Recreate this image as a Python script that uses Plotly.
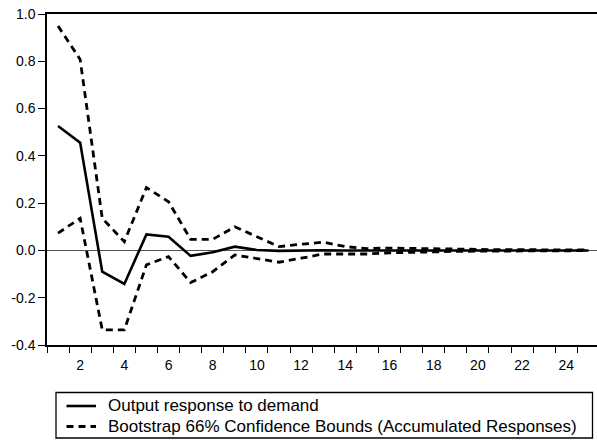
import plotly.graph_objects as go

# Impulse-response horizon (periods)
periods = list(range(1, 26))

# Point estimate of the output response to a demand shock
response = [0.526, 0.456, -0.090, -0.142, 0.068, 0.058, -0.023, -0.008, 0.016, 0.002,
            -0.002, 0.000, 0.001, 0.000, 0.000, 0.000, 0.000, 0.000, 0.000, 0.000,
            0.000, 0.000, 0.000, 0.000, 0.000]

# Bootstrap 66% confidence bounds
upper = [0.949, 0.808, 0.136, 0.037, 0.266, 0.206, 0.047, 0.047, 0.100, 0.058,
         0.016, 0.026, 0.035, 0.016, 0.008, 0.010, 0.008, 0.006, 0.005, 0.004,
         0.003, 0.003, 0.002, 0.002, 0.002]
lower = [0.073, 0.136, -0.336, -0.336, -0.061, -0.026, -0.136, -0.090, -0.019, -0.033,
         -0.050, -0.033, -0.015, -0.015, -0.015, -0.010, -0.007, -0.005, -0.004, -0.003,
         -0.003, -0.002, -0.002, -0.002, -0.001]

x_labels = [str(k) for k in range(2, 25, 2)]
y_ticks = [-0.4, -0.2, 0.0, 0.2, 0.4, 0.6, 0.8, 1.0]

legend_labels = ["Output response to demand",
                 "Bootstrap 66% Confidence Bounds (Accumulated Responses)"]

font_family = "Liberation Sans, Arial, sans-serif"
solid_style = dict(color="black", width=2.6)
dash_style = dict(color="black", width=2.8, dash="7px,5px")

# Figure geometry in pixels (used to place the legend box below the axes)
W, H = 597, 441
M_L, M_R, M_T, M_B = 47, 0, 14, 96
PW, PH = W - M_L - M_R, H - M_T - M_B


def px_x(px):
    return (px - M_L) / PW


def px_y(py):
    return (H - M_B - py) / PH


fig = go.Figure()

fig.add_trace(go.Scatter(x=periods, y=response, mode="lines",
                         name=legend_labels[0], line=solid_style))
fig.add_trace(go.Scatter(x=periods, y=upper, mode="lines",
                         name=legend_labels[1], line=dash_style))
fig.add_trace(go.Scatter(x=periods, y=lower, mode="lines",
                         name="lower bound", line=dash_style))

# Legend drawn as a framed box under the chart
shapes = [
    dict(type="rect", xref="paper", yref="paper",
         x0=px_x(56), x1=px_x(592.5), y0=px_y(392.5), y1=px_y(438),
         line=dict(color="black", width=1.3), fillcolor="white", layer="above"),
]
annotations = []
row_y = [406, 426.5]
for i, (label, style) in enumerate(zip(legend_labels, [solid_style, dash_style])):
    shapes.append(dict(type="line", xref="paper", yref="paper",
                       x0=px_x(66.5), x1=px_x(96), y0=px_y(row_y[i]), y1=px_y(row_y[i]),
                       line=style, layer="above"))
    annotations.append(dict(xref="paper", yref="paper", x=px_x(106), y=px_y(row_y[i]),
                            text=label, showarrow=False, xanchor="left", yanchor="middle",
                            font=dict(family=font_family, size=17, color="black")))

fig.update_layout(
    width=W, height=H,
    margin=dict(l=M_L, r=M_R, t=M_T, b=M_B),
    paper_bgcolor="white", plot_bgcolor="white",
    font=dict(family=font_family, color="black", size=14),
    showlegend=False,
    shapes=shapes,
    annotations=annotations,
)

fig.update_xaxes(
    range=[0.5, 25.39],
    tickmode="array",
    tickvals=[int(s) for s in x_labels],
    ticktext=x_labels,
    ticks="outside", ticklen=6, tickcolor="rgba(0,0,0,0)",
    minor=dict(
        tickmode="array",
        tickvals=[k + 0.5 for k in range(0, 25)],
        ticks="outside", ticklen=6, tickwidth=1, tickcolor="black",
        showgrid=False,
    ),
    showgrid=False, zeroline=False,
    showline=True, linecolor="black", linewidth=1.5, mirror=True,
    tickfont=dict(size=14),
)

fig.update_yaxes(
    range=[-0.4, 1.0],
    tickmode="array",
    tickvals=y_ticks,
    ticktext=[f"{v:.1f}" for v in y_ticks],
    ticks="outside", ticklen=7, tickwidth=1, tickcolor="black",
    showgrid=False,
    zeroline=True, zerolinecolor="#555555", zerolinewidth=1.3,
    showline=True, linecolor="black", linewidth=1.5,
    tickfont=dict(size=14),
)

fig.write_html("out.html")
